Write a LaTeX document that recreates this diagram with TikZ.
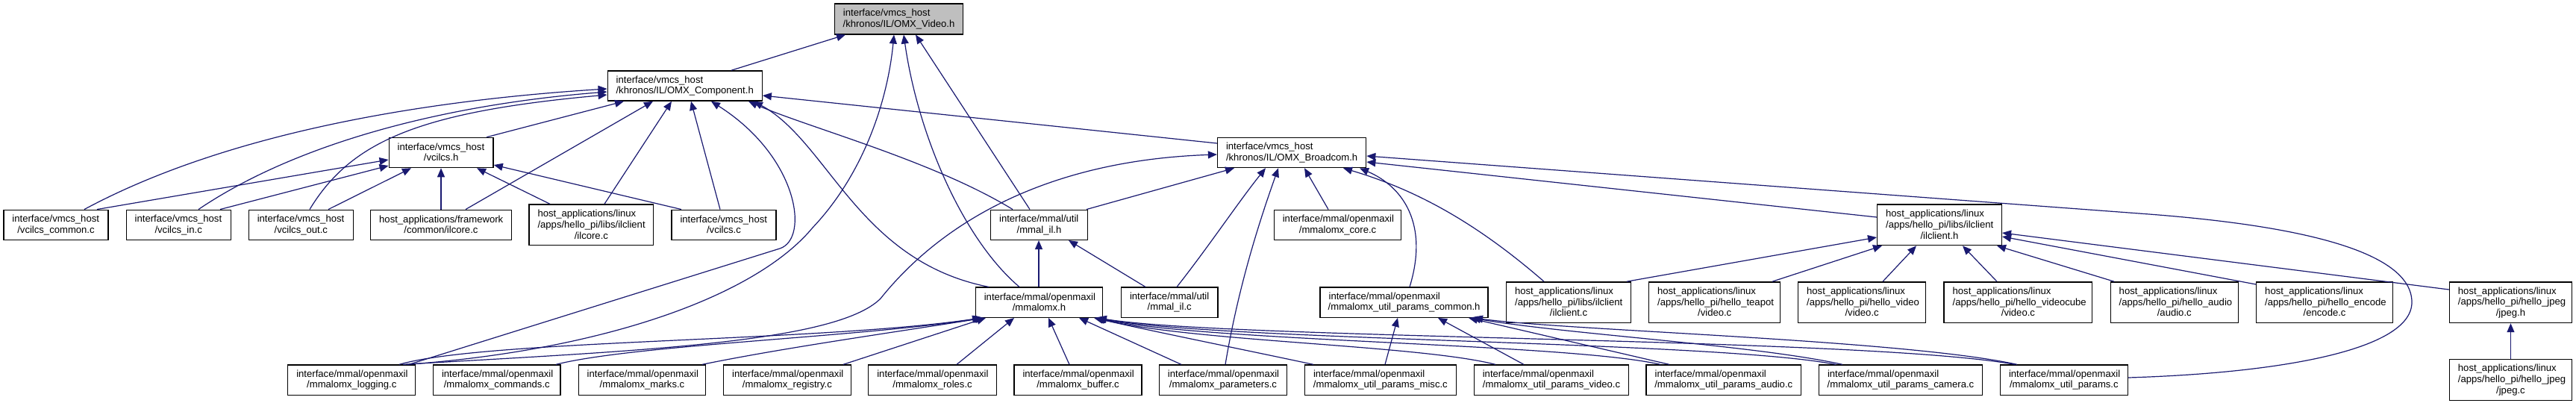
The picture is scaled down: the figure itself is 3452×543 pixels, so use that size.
\documentclass[tikz,border=0pt]{standalone}
\usepackage{fontspec}
\setmainfont{Liberation Sans}
\usetikzlibrary{arrows.meta,calc}
\definecolor{edgeblue}{RGB}{25,25,112}
\definecolor{focusgray}{RGB}{191,191,191}
\newcommand\dstrut{\rule[-0.6pt]{0pt}{5.3pt}}
\newcommand\glL[1]{\hbox to\linewidth{\dstrut#1\hss}}
\newcommand\glC[1]{\hbox to\linewidth{\hss\dstrut#1\hss}}
\newcommand\twol[2]{\glL{#1}\par\glC{#2}\par}
\newcommand\threel[3]{\glL{#1}\par\glL{#2}\par\glC{#3}\par}
\tikzset{
  gbox/.style={rectangle,draw=black,fill=white,line width=0.65pt,inner sep=0pt,
    font=\fontsize{6.55}{7.28}\selectfont},
  dep/.style={draw=edgeblue,line width=0.6pt,-{Triangle[length=6pt,width=5pt]}}
}
\newcommand\gnode[7][]{%
  \pgfmathsetmacro\gnWid{(#4-#3)*0.5}%
  \pgfmathsetmacro\gnTxt{(#4-#3-23)*0.5}%
  \pgfmathsetmacro\gnCx{(#3+#4)/2}%
  \node[gbox,#1,minimum width=\gnWid pt,minimum height=#6*0.5pt,text width=\gnTxt pt] (#2) at (\gnCx,#5) {\parindent=0pt\parskip=0pt #7};}
\begin{document}
\begin{tikzpicture}[x=0.5pt,y=-0.5pt]
\fill[white] (0,0) rectangle (3452,543);
\useasboundingbox (0,0) rectangle (3452,543);
% row 0
\gnode[fill=focusgray]{V}{1118.4}{1290.6}{25.5}{40.8}{\twol{interface/vmcs\_host}{/khronos/IL/OMX\_Video.h}}
% row 1
\gnode{C}{814.2}{1021.2}{115}{40.2}{\twol{interface/vmcs\_host}{/khronos/IL/OMX\_Component.h}}
% row 2
\gnode{VH}{521.2}{661.1}{204.5}{40.2}{\twol{interface/vmcs\_host}{/vcilcs.h}}
\gnode{B}{1631.5}{1830.7}{204.5}{40.2}{\twol{interface/vmcs\_host}{/khronos/IL/OMX\_Broadcom.h}}
% row 3
\gnode{VCC}{5}{145}{301.3}{40.2}{\twol{interface/vmcs\_host}{/vcilcs\_common.c}}
\gnode{VIN}{169.2}{309.2}{301.3}{40.2}{\twol{interface/vmcs\_host}{/vcilcs\_in.c}}
\gnode{VOUT}{333.3}{473.4}{301.3}{40.2}{\twol{interface/vmcs\_host}{/vcilcs\_out.c}}
\gnode{FIL}{496.7}{685.2}{301.3}{40.2}{\twol{host\_applications/framework}{/common/ilcore.c}}
\gnode{LIL}{709}{875.8}{301.3}{54.7}{\threel{host\_applications/linux}{/apps/hello\_pi/libs/ilclient}{/ilcore.c}}
\gnode{VC}{900}{1040}{301.3}{40.2}{\twol{interface/vmcs\_host}{/vcilcs.c}}
\gnode{MILH}{1327.6}{1457.4}{301.3}{40.2}{\twol{interface/mmal/util}{/mmal\_il.h}}
\gnode{CORE}{1707.3}{1877.8}{301.3}{40.2}{\twol{interface/mmal/openmaxil}{/mmalomx\_core.c}}
\gnode{ILH}{2515.6}{2682.4}{301.3}{54.7}{\threel{host\_applications/linux}{/apps/hello\_pi/libs/ilclient}{/ilclient.h}}
% row 4
\gnode{MH}{1307.3}{1477.6}{405.2}{40.2}{\twol{interface/mmal/openmaxil}{/mmalomx.h}}
\gnode{MILC}{1502.5}{1631.9}{405.2}{40.2}{\twol{interface/mmal/util}{/mmal\_il.c}}
\gnode{UPC}{1769.1}{1994.1}{405.2}{40.2}{\twol{interface/mmal/openmaxil}{/mmalomx\_util\_params\_common.h}}
\gnode{ILC}{2018.6}{2185.5}{405.2}{54.7}{\threel{host\_applications/linux}{/apps/hello\_pi/libs/ilclient}{/ilclient.c}}
\gnode{TEA}{2209.6}{2385.8}{405.2}{54.7}{\threel{host\_applications/linux}{/apps/hello\_pi/hello\_teapot}{/video.c}}
\gnode{HV}{2409.6}{2580.6}{405.2}{54.7}{\threel{host\_applications/linux}{/apps/hello\_pi/hello\_video}{/video.c}}
\gnode{HVC}{2605.1}{2803.7}{405.2}{54.7}{\threel{host\_applications/linux}{/apps/hello\_pi/hello\_videocube}{/video.c}}
\gnode{AUD}{2828.2}{2999.3}{405.2}{54.7}{\threel{host\_applications/linux}{/apps/hello\_pi/hello\_audio}{/audio.c}}
\gnode{ENC}{3023.7}{3206.5}{405.2}{54.7}{\threel{host\_applications/linux}{/apps/hello\_pi/hello\_encode}{/encode.c}}
\gnode{JH}{3282.4}{3446.5}{405.2}{54.7}{\threel{host\_applications/linux}{/apps/hello\_pi/hello\_jpeg}{/jpeg.h}}
% row 5
\gnode{LOG}{385.8}{556.8}{509.1}{40.2}{\twol{interface/mmal/openmaxil}{/mmalomx\_logging.c}}
\gnode{CMD}{580.5}{751}{509.1}{40.2}{\twol{interface/mmal/openmaxil}{/mmalomx\_commands.c}}
\gnode{MRK}{775.2}{945.8}{509.1}{40.2}{\twol{interface/mmal/openmaxil}{/mmalomx\_marks.c}}
\gnode{REG}{969.6}{1140.2}{509.1}{40.2}{\twol{interface/mmal/openmaxil}{/mmalomx\_registry.c}}
\gnode{ROL}{1163.8}{1335.3}{509.1}{40.2}{\twol{interface/mmal/openmaxil}{/mmalomx\_roles.c}}
\gnode{BUF}{1359}{1530}{509.1}{40.2}{\twol{interface/mmal/openmaxil}{/mmalomx\_buffer.c}}
\gnode{PAR}{1553.4}{1724.5}{509.1}{40.2}{\twol{interface/mmal/openmaxil}{/mmalomx\_parameters.c}}
\gnode{MISC}{1748.5}{1951.2}{509.1}{40.2}{\twol{interface/mmal/openmaxil}{/mmalomx\_util\_params\_misc.c}}
\gnode{UVID}{1975.3}{2182.8}{509.1}{40.2}{\twol{interface/mmal/openmaxil}{/mmalomx\_util\_params\_video.c}}
\gnode{UAUD}{2206.1}{2413.4}{509.1}{40.2}{\twol{interface/mmal/openmaxil}{/mmalomx\_util\_params\_audio.c}}
\gnode{UCAM}{2437.5}{2656.4}{509.1}{40.2}{\twol{interface/mmal/openmaxil}{/mmalomx\_util\_params\_camera.c}}
\gnode{UPAR}{2680.5}{2851.2}{509.1}{40.2}{\twol{interface/mmal/openmaxil}{/mmalomx\_util\_params.c}}
\gnode{JC}{3282.4}{3446.5}{509.1}{54.7}{\threel{host\_applications/linux}{/apps/hello\_pi/hello\_jpeg}{/jpeg.c}}
% ---- edges into OMX_Video.h
\draw[dep] (980,0 |- C.north) -- (1133,0 |- V.south);
\draw[dep] (1380,0 |- MILH.north) -- (1227,0 |- V.south);
\draw[dep] (1366,0 |- MH.north) .. controls (1290,320) and (1230,180) .. (1211,0 |- V.south);
\draw[dep] (545,0 |- LOG.north) .. controls (800,470) and (1010,400) .. (1089,305) .. controls (1160,230) and (1190,130) .. (1198,0 |- V.south);
% ---- edges into OMX_Component.h
\draw[dep] (113,0 |- VCC.north) .. controls (300,180) and (560,135) .. (C.west |- 0,119);
\draw[dep] (266,0 |- VIN.north) .. controls (400,190) and (600,140) .. (C.west |- 0,123);
\draw[dep] (415,0 |- VOUT.north) .. controls (470,190) and (560,150) .. (C.west |- 0,127);
\draw[dep] (652,0 |- VH.north) -- (836,0 |- C.south);
\draw[dep] (624,0 |- FIL.north) -- (875,0 |- C.south);
\draw[dep] (810,0 |- LIL.north) -- (900,0 |- C.south);
\draw[dep] (965,0 |- VC.north) -- (926,0 |- C.south);
\draw[dep] (548,0 |- LOG.north) -- (1045,333) .. controls (1085,320) and (1070,210) .. (953,0 |- C.south);
\draw[dep] (1357,0 |- MILH.north) .. controls (1250,215) and (1080,170) .. (1003,0 |- C.south);
\draw[dep] (1325,0 |- MH.north) .. controls (1150,350) and (1110,190) .. (1010,0 |- C.south);
\draw[dep] (B.west |- 0,192) -- (C.east |- 0,128);
% ---- edges into vcilcs.h
\draw[dep] (130,0 |- VCC.north) -- (VH.west |- 0,214);
\draw[dep] (295,0 |- VIN.north) -- (VH.west |- 0,222);
\draw[dep] (440,0 |- VOUT.north) -- (551,0 |- VH.south);
\draw[dep] (591,0 |- FIL.north) -- (591,0 |- VH.south);
\draw[dep] (737,0 |- LIL.north) -- (639,0 |- VH.south);
\draw[dep] (913,0 |- VC.north) -- (VH.east |- 0,221);
% ---- edges into OMX_Broadcom.h
\draw[dep] (1456,0 |- MILH.north) -- (1654,0 |- B.south);
\draw[dep] (1577,0 |- MILC.north) .. controls (1620,330) and (1660,270) .. (1696,0 |- B.south);
\draw[dep] (1642,0 |- PAR.north) .. controls (1660,380) and (1690,290) .. (1713,0 |- B.south);
\draw[dep] (1780,0 |- CORE.north) -- (1748,0 |- B.south);
\draw[dep] (1889,0 |- UPC.north) .. controls (1915,300) and (1880,250) .. (1822,0 |- B.south);
\draw[dep] (2069,0 |- ILC.north) .. controls (1980,300) and (1900,255) .. (1800,0 |- B.south);
\draw[dep] (ILH.west |- 0,291) -- (B.east |- 0,217);
\draw[dep] (UPAR.east |- 0,506) .. controls (3050,500) and (3232,470) .. (3232,405) .. controls (3232,330) and (3050,300) .. (2880,287) -- (B.east |- 0,209);
\draw[dep] (540,0 |- LOG.north) .. controls (850,470) and (1120,460) .. (1180,400) .. controls (1260,300) and (1400,215) .. (B.west |- 0,207);
% ---- edges into mmal_il.h
\draw[dep] (1392,0 |- MH.north) -- (1392,0 |- MILH.south);
\draw[dep] (1535,0 |- MILC.north) -- (1432,0 |- MILH.south);
% ---- edges into mmalomx.h
\draw[dep] (535,0 |- LOG.north) .. controls (650,455) and (1100,458) .. (1315,0 |- MH.south);
\draw[dep] (745,0 |- CMD.north) .. controls (850,462) and (1150,452) .. (1317,0 |- MH.south);
\draw[dep] (941,0 |- MRK.north) .. controls (1050,466) and (1200,445) .. (1319,0 |- MH.south);
\draw[dep] (1130,0 |- REG.north) -- (1321,0 |- MH.south);
\draw[dep] (1282,0 |- ROL.north) -- (1359,0 |- MH.south);
\draw[dep] (1433,0 |- BUF.north) -- (1405,0 |- MH.south);
\draw[dep] (1583,0 |- PAR.north) -- (1446,0 |- MH.south);
\draw[dep] (1760,0 |- MISC.north) .. controls (1650,465) and (1550,445) .. (1466,0 |- MH.south);
\draw[dep] (2004,0 |- UVID.north) .. controls (1900,462) and (1600,458) .. (1468,0 |- MH.south);
\draw[dep] (2225,0 |- UAUD.north) .. controls (2100,460) and (1620,458) .. (1469,0 |- MH.south);
\draw[dep] (2460,0 |- UCAM.north) .. controls (2300,457) and (1640,457) .. (1470,0 |- MH.south);
\draw[dep] (2700,0 |- UPAR.north) .. controls (2500,452) and (1650,455) .. (1471,0 |- MH.south);
% ---- edges into mmalomx_util_params_common.h
\draw[dep] (1856,0 |- MISC.north) -- (1873,0 |- UPC.south);
\draw[dep] (2042,0 |- UVID.north) -- (1927,0 |- UPC.south);
\draw[dep] (2237,0 |- UAUD.north) -- (1968,0 |- UPC.south);
\draw[dep] (2469,0 |- UCAM.north) .. controls (2350,462) and (2100,448) .. (1972,0 |- UPC.south);
\draw[dep] (2703,0 |- UPAR.north) .. controls (2550,455) and (2100,443) .. (1975,0 |- UPC.south);
% ---- edges into ilclient.h
\draw[dep] (2180,0 |- ILC.north) -- (ILH.west |- 0,318);
\draw[dep] (2375,0 |- TEA.north) -- (2522,0 |- ILH.south);
\draw[dep] (2523,0 |- HV.north) -- (2568,0 |- ILH.south);
\draw[dep] (2676,0 |- HVC.north) -- (2630,0 |- ILH.south);
\draw[dep] (2833,0 |- AUD.north) -- (2676,0 |- ILH.south);
\draw[dep] (ENC.west |- 0,381) -- (ILH.east |- 0,317);
\draw[dep] (JH.west |- 0,388) -- (ILH.east |- 0,312);
% ---- jpeg
\draw[dep] (JC.north) -- (JH.south);
\end{tikzpicture}
\end{document}
